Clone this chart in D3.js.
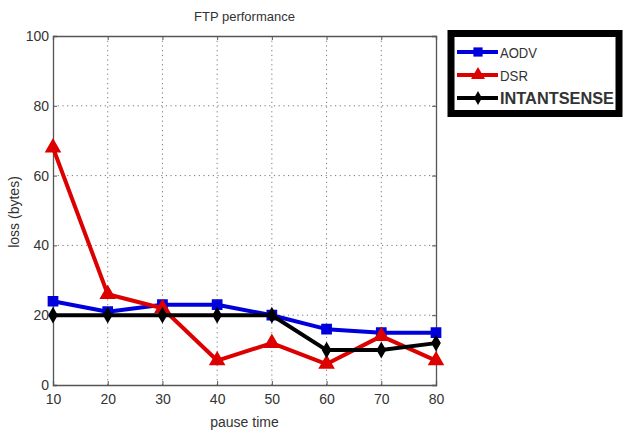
<!DOCTYPE html>
<html>
<head>
<meta charset="utf-8">
<script src="https://cdn.jsdelivr.net/npm/d3@7"></script>
<style>
  body { margin: 0; background: #fff; }
  svg { display: block; }
  text { font-family: "Liberation Sans Narrow", "Liberation Sans", Arial, sans-serif; fill: #333; }
  .grid line { stroke: #777; stroke-dasharray: 1.2 3.5; stroke-width: 1; }
  .axis path, .axis line { stroke: #555; }
</style>
</head>
<body>
<div id="chart-area"></div>
<script>
const pauseTimes = [10, 20, 30, 40, 50, 60, 70, 80];
const aodv = [24, 21, 23, 23, 20, 16, 15, 15];
const dsr = [68, 26, 22, 7, 12, 6, 14, 7];
const intantsense = [20, 20, 20, 20, 20, 10, 10, 12];
const yTicks = [0, 20, 40, 60, 80, 100];
const seriesNames = ["AODV", "DSR", "INTANTSENSE"];

const chart = { width: 624, height: 433 };
const margin = { top: 36, right: 188, left: 53, bottom: 48 };
const height = chart.height - (margin.top + margin.bottom);
const width = chart.width - (margin.left + margin.right);

const series = [
  { name: seriesNames[0], values: aodv, color: "#0000dd", symbol: d3.symbolSquare, size: 85, legendW: 37 },
  { name: seriesNames[1], values: dsr, color: "#dd0000", symbol: d3.symbolTriangle, size: 85, legendW: 28 },
  { name: seriesNames[2], values: intantsense, color: "#000", symbol: d3.symbolDiamond, size: 55, legendW: 114 }
];

const x = d3.scaleLinear().domain([10, 80]).range([0, width]);
const y = d3.scaleLinear().domain([0, 100]).range([height, 0]);

const svg = d3.select("#chart-area").append("svg")
  .attr("width", chart.width).attr("height", chart.height);
const g = svg.append("g").attr("transform", `translate(${margin.left}, ${margin.top})`);

// grid
g.append("g").attr("class", "grid")
  .selectAll("line.v").data(pauseTimes.slice(1, -1)).enter().append("line")
  .attr("x1", d => x(d)).attr("x2", d => x(d)).attr("y1", 0).attr("y2", height);
g.select(".grid")
  .selectAll("line.h").data(yTicks.slice(1, -1)).enter().append("line")
  .attr("x1", 0).attr("x2", width).attr("y1", d => y(d)).attr("y2", d => y(d));

// axes, MATLAB style ticks pointing inward on all sides
g.append("g").attr("class", "axis")
  .attr("transform", `translate(0, ${height})`)
  .call(d3.axisBottom(x).tickValues(pauseTimes).tickSize(-4).tickPadding(9));
g.append("g").attr("class", "axis")
  .call(d3.axisTop(x).tickValues(pauseTimes).tickSize(-4).tickFormat(""));
g.append("g").attr("class", "axis")
  .call(d3.axisLeft(y).tickValues(yTicks).tickSize(-4).tickPadding(4));
g.append("g").attr("class", "axis")
  .attr("transform", `translate(${width}, 0)`)
  .call(d3.axisRight(y).tickValues(yTicks).tickSize(-4).tickFormat(""));
g.selectAll(".axis text").style("font-size", "14px").attr("fill", "#333");
g.selectAll(".axis .domain").attr("stroke-width", 1.3);

// lines + markers
const line = d3.line().x((d, i) => x(pauseTimes[i])).y(d => y(d));
series.forEach(s => {
  g.append("path").datum(s.values)
    .attr("d", line).attr("fill", "none")
    .attr("stroke", s.color).attr("stroke-width", 4).attr("stroke-linejoin", "round");
  g.selectAll(null).data(s.values).enter().append("path")
    .attr("d", d3.symbol().type(s.symbol).size(s.size))
    .attr("transform", (d, i) => `translate(${x(pauseTimes[i])}, ${y(d)})`)
    .attr("fill", s.color).attr("stroke", s.color).attr("stroke-width", 1.5);
});

// titles
svg.append("text").text("FTP performance")
  .attr("x", margin.left + width / 2).attr("y", 21)
  .attr("text-anchor", "middle").style("font-size", "13px");
svg.append("text").text("pause time")
  .attr("x", margin.left + width / 2).attr("y", 427)
  .attr("text-anchor", "middle").style("font-size", "14px");
svg.append("text").text("loss (bytes)")
  .attr("transform", "rotate(-90)")
  .attr("x", -212).attr("y", 19)
  .attr("text-anchor", "middle").style("font-size", "14px");

// legend
const lg = svg.append("g");
lg.append("rect").attr("x", 451).attr("y", 33.5).attr("width", 168).attr("height", 80)
  .attr("fill", "#fff").attr("stroke", "#000").attr("stroke-width", 7);
series.forEach((s, i) => {
  const ly = 52 + i * 23;
  lg.append("line").attr("x1", 457).attr("x2", 498).attr("y1", ly).attr("y2", ly)
    .attr("stroke", s.color).attr("stroke-width", 4);
  lg.append("path").attr("d", d3.symbol().type(s.symbol).size(s.size))
    .attr("transform", `translate(478, ${ly})`).attr("fill", s.color);
  lg.append("text").text(s.name)
    .attr("x", 500).attr("y", ly + 6)
    .attr("textLength", s.legendW).attr("lengthAdjust", "spacingAndGlyphs")
    .style("font-size", i == 2 ? "17px" : "15px")
    .style("font-weight", i == 2 ? "bold" : "normal")
    .attr("fill", "#111");
});
</script>
</body>
</html>
